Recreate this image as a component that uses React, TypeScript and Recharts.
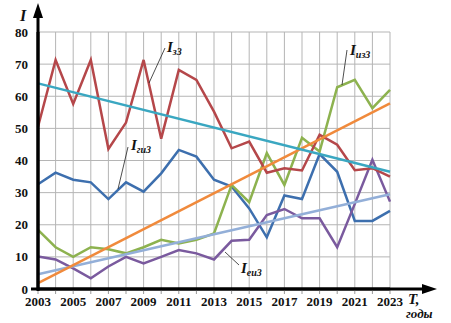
import React from 'react';
import { LineChart, Line, XAxis, YAxis, CartesianGrid } from 'recharts';

const years = [2003, 2004, 2005, 2006, 2007, 2008, 2009, 2010, 2011, 2012, 2013, 2014, 2015, 2016, 2017, 2018, 2019, 2020, 2021, 2022, 2023];
const yTicks = [0, 10, 20, 30, 40, 50, 60, 70, 80];

// series
const iZ3 = [50.5, 71.3, 57.6, 71.3, 43.6, 51.8, 71.3, 46.8, 68.2, 65.1, 55.2, 43.8, 45.9, 36.2, 37.6, 36.9, 48, 44.9, 37, 37.6, 35];
const iGi3 = [32.6, 36.2, 34, 33.2, 28, 33.2, 30.3, 36, 43.3, 41.2, 34, 31.9, 25.1, 16.1, 29.1, 28, 42, 36.5, 21.2, 21.2, 24.3];
const iIz3 = [18.4, 13, 10, 13, 12.4, 11.1, 13, 15.3, 14.2, 15.3, 17.3, 32.4, 27, 42.3, 32.4, 47.1, 42.8, 62.8, 65.1, 56.3, 62];
const iEi3 = [10.1, 9.2, 6.4, 3.3, 7, 10, 8, 10, 12.1, 11.1, 9.2, 15, 15.3, 23, 24.9, 22, 22, 13, 26.5, 40.2, 27.2];

// trend lines: values at first and last year
const trendZ = [64, 36.5];
const trendIz = [1.8, 57.8];
const trendEi = [4.6, 29.5];

const last = years.length - 1;
const edge = (t: number[], i: number) => (i === 0 ? t[0] : i === last ? t[1] : null);

const data = years.map((year, i) => ({
  year,
  z: iZ3[i],
  gi: iGi3[i],
  iz: iIz3[i],
  ei: iEi3[i],
  tz: edge(trendZ, i),
  tiz: edge(trendIz, i),
  tei: edge(trendEi, i),
}));

const serif = { fontFamily: "'Liberation Serif', 'DejaVu Serif', serif", fontWeight: 700 } as const;
const serifIt = { ...serif, fontStyle: 'italic' } as const;

const XTick = (props: any) => {
  const { x, y, payload } = props;
  if ((payload.value - 2003) % 2 !== 0) return null;
  return (
    <text x={x} y={y} dy={10} textAnchor="middle" style={{ ...serif, fontSize: 13 }} fill="#111">
      {payload.value}
    </text>
  );
};

const YTick = (props: any) => {
  const { x, y, payload } = props;
  return (
    <text x={x - 2} y={y} dy={4.5} textAnchor="end" style={{ ...serif, fontSize: 13 }} fill="#111">
      {payload.value}
    </text>
  );
};

const Label = ({ x, y, sub }: { x: number; y: number; sub: string }) => (
  <text x={x} y={y} style={serifIt} fill="#111">
    <tspan fontSize={15}>I</tspan>
    <tspan fontSize={10} dy={3}>{sub}</tspan>
  </text>
);

export default function App() {
  return (
    <div style={{ position: 'relative', width: 451, height: 323, background: '#fff' }}>
      <style>{'body{margin:0}'}</style>
      <LineChart width={451} height={323} data={data} margin={{ top: 32, right: 61, bottom: 4, left: 8 }}>
        <CartesianGrid stroke="#b5b5b5" strokeWidth={1} />
        <XAxis
          dataKey="year"
          type="number"
          domain={[2003, 2023]}
          ticks={years}
          interval={0}
          height={30}
          axisLine={{ stroke: '#000', strokeWidth: 3 }}
          tickLine={{ stroke: '#999' }}
          tickSize={5}
          tick={<XTick />}
        />
        <YAxis
          domain={[0, 80]}
          ticks={yTicks}
          width={30}
          axisLine={{ stroke: '#000', strokeWidth: 3 }}
          tickLine={false}
          tick={<YTick />}
        />
        <Line dataKey="gi" stroke="#3d6fae" strokeWidth={2.5} dot={false} isAnimationActive={false} />
        <Line dataKey="ei" stroke="#7a5a9e" strokeWidth={2.5} dot={false} isAnimationActive={false} />
        <Line dataKey="iz" stroke="#8db24f" strokeWidth={2.5} dot={false} isAnimationActive={false} />
        <Line dataKey="z" stroke="#b5474a" strokeWidth={2.5} dot={false} isAnimationActive={false} />
        <Line dataKey="tei" stroke="#93afd8" strokeWidth={2.5} dot={false} connectNulls isAnimationActive={false} />
        <Line dataKey="tiz" stroke="#f08a3c" strokeWidth={2.5} dot={false} connectNulls isAnimationActive={false} />
        <Line dataKey="tz" stroke="#3aa7c1" strokeWidth={2.5} dot={false} connectNulls isAnimationActive={false} />
      </LineChart>
      <svg width={451} height={323} style={{ position: 'absolute', left: 0, top: 0, pointerEvents: 'none' }}>
        {/* axis extensions and arrows */}
        <line x1={38} y1={291} x2={38} y2={16} stroke="#000" strokeWidth={3} />
        <polygon points="38,3 33,18 43,18" fill="#000" />
        <line x1={31} y1={289} x2={422} y2={289} stroke="#000" strokeWidth={3} />
        <polygon points="437,289 422,284 422,294" fill="#000" />
        <text x={20} y={21} style={{ ...serifIt, fontSize: 16 }} fill="#111">I</text>
        <text x={408} y={304} style={{ ...serifIt, fontSize: 15 }} fill="#111">T,</text>
        <text x={406} y={318} style={{ ...serifIt, fontSize: 13 }} fill="#111">годы</text>
        {/* series labels with leader lines */}
        <line x1={165} y1={48} x2={149} y2={83} stroke="#222" strokeWidth={0.8} />
        <Label x={167} y={52} sub="з3" />
        <line x1={128} y1={147} x2={118} y2={189} stroke="#222" strokeWidth={0.8} />
        <Label x={131} y={150} sub="ги3" />
        <line x1={347} y1={50} x2={342} y2={85} stroke="#222" strokeWidth={0.8} />
        <Label x={350} y={55} sub="из3" />
        <line x1={225} y1={252} x2={239} y2={265} stroke="#222" strokeWidth={0.8} />
        <Label x={241} y={273} sub="еи3" />
      </svg>
    </div>
  );
}
